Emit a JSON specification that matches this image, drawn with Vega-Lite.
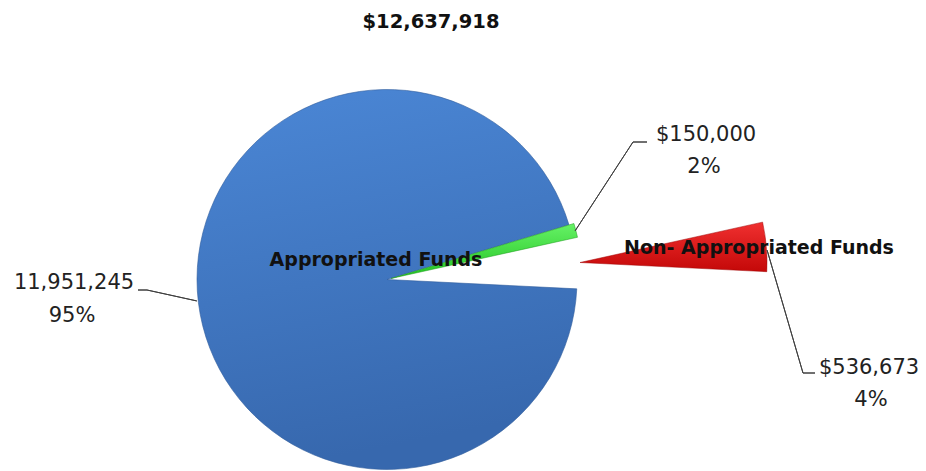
{
  "$schema": "https://vega.github.io/schema/vega-lite/v6.json",
  "width": 774,
  "height": 383,
  "autosize": {"type": "none"},
  "padding": {"left": 0, "top": 88, "right": 152, "bottom": 0},
  "background": "white",
  "config": {"view": {"stroke": null}, "font": "DejaVu Sans"},
  "title": {"text": "$12,637,918", "font": "DejaVu Sans", "fontSize": 19.5, "fontWeight": "bold", "color": "#111111", "dx": 44, "offset": 56},
  "data": {"values": [
    {"category": "Appropriated Funds", "value": 11951245, "order": 1, "share": "95%"},
    {"category": "Other Funds", "value": 150000, "order": 2, "share": "2%"},
    {"category": "Non- Appropriated Funds", "value": 536673, "order": 3, "share": "4%"}
  ]},
  "transform": [
    {"stack": "value", "groupby": [], "sort": [{"field": "order", "order": "ascending"}], "as": ["v0", "v1"]}
  ],
  "layer": [
    {
      "transform": [{"filter": "datum.order == 1"}],
      "mark": {"type": "arc", "radius": 190, "stroke": "#2f5d9c", "strokeWidth": 0.6,
        "color": {"gradient": "linear", "x1": 0, "y1": 0, "x2": 0.2, "y2": 1, "stops": [{"offset": 0, "color": "#4b87d6"}, {"offset": 1, "color": "#3768ae"}]}},
      "encoding": {
        "theta": {"field": "v0", "type": "quantitative", "scale": {"type": "linear", "domain": [0, 12637918], "range": [1.62, 7.9032]}},
        "theta2": {"field": "v1"}
      }
    },
    {
      "transform": [{"filter": "datum.order == 2"}],
      "mark": {"type": "arc", "radius": 191, "xOffset": 4, "yOffset": -1, "stroke": "#1d9a1d", "strokeWidth": 0.5,
        "color": {"gradient": "linear", "x1": 0, "y1": 0, "x2": 0, "y2": 1, "stops": [{"offset": 0, "color": "#66f266"}, {"offset": 1, "color": "#22c322"}]}},
      "encoding": {
        "theta": {"field": "v0", "type": "quantitative", "scale": {"type": "linear", "domain": [0, 12637918], "range": [1.62, 7.9032]}},
        "theta2": {"field": "v1"}
      }
    },
    {
      "transform": [{"filter": "datum.order == 3"}],
      "mark": {"type": "arc", "radius": 187, "xOffset": 193, "yOffset": -17, "stroke": "#a00000", "strokeWidth": 0.5,
        "color": {"gradient": "linear", "x1": 0, "y1": 0, "x2": 0, "y2": 1, "stops": [{"offset": 0, "color": "#f03030"}, {"offset": 1, "color": "#c40808"}]}},
      "encoding": {
        "theta": {"field": "v0", "type": "quantitative", "scale": {"type": "linear", "domain": [0, 12637918], "range": [1.62, 7.9032]}},
        "theta2": {"field": "v1"}
      }
    },
    {
      "transform": [{"filter": "datum.order == 1"}],
      "mark": {"type": "arc", "filled": false, "stroke": "#404040", "strokeWidth": 1, "xOffset": -240, "yOffset": 10.5},
      "encoding": {"theta": {"value": 1.787}, "theta2": {"value": 1.787}, "radius": {"value": 51}, "radius2": {"value": 0}}
    },
    {
      "transform": [{"filter": "datum.order == 1"}],
      "mark": {"type": "arc", "filled": false, "stroke": "#404040", "strokeWidth": 1, "xOffset": -240, "yOffset": 10.5},
      "encoding": {"theta": {"value": 4.712}, "theta2": {"value": 4.712}, "radius": {"value": 9}, "radius2": {"value": 0}}
    },
    {
      "transform": [{"filter": "datum.order == 2"}],
      "mark": {"type": "arc", "filled": false, "stroke": "#404040", "strokeWidth": 1, "xOffset": 246, "yOffset": -137.5},
      "encoding": {"theta": {"value": 3.719}, "theta2": {"value": 3.719}, "radius": {"value": 106}, "radius2": {"value": 0}}
    },
    {
      "transform": [{"filter": "datum.order == 2"}],
      "mark": {"type": "arc", "filled": false, "stroke": "#404040", "strokeWidth": 1, "xOffset": 246, "yOffset": -137.5},
      "encoding": {"theta": {"value": 1.5708}, "theta2": {"value": 1.5708}, "radius": {"value": 14}, "radius2": {"value": 0}}
    },
    {
      "transform": [{"filter": "datum.order == 3"}],
      "mark": {"type": "arc", "filled": false, "stroke": "#404040", "strokeWidth": 1, "xOffset": 416, "yOffset": 93.5},
      "encoding": {"theta": {"value": 5.999}, "theta2": {"value": 5.999}, "radius": {"value": 128}, "radius2": {"value": 0}}
    },
    {
      "transform": [{"filter": "datum.order == 3"}],
      "mark": {"type": "arc", "filled": false, "stroke": "#404040", "strokeWidth": 1, "xOffset": 416, "yOffset": 93.5},
      "encoding": {"theta": {"value": 1.5708}, "theta2": {"value": 1.5708}, "radius": {"value": 12}, "radius2": {"value": 0}}
    },
    {
      "transform": [{"filter": "datum.order == 1"}],
      "mark": {"type": "text", "font": "DejaVu Sans", "fontSize": 21, "color": "#222222", "align": "center", "baseline": "middle", "dx": -313, "dy": 3.5},
      "encoding": {"text": {"field": "value", "type": "quantitative", "format": ","}}
    },
    {
      "transform": [{"filter": "datum.order == 1"}],
      "mark": {"type": "text", "font": "DejaVu Sans", "fontSize": 21, "color": "#222222", "align": "center", "baseline": "middle", "dx": -315, "dy": 36.5},
      "encoding": {"text": {"field": "share", "type": "nominal"}}
    },
    {
      "transform": [{"filter": "datum.order == 1"}],
      "mark": {"type": "text", "font": "DejaVu Sans", "fontSize": 19, "fontWeight": "bold", "color": "#111111", "align": "center", "baseline": "middle", "dx": -11, "dy": -19.5},
      "encoding": {"text": {"field": "category", "type": "nominal"}}
    },
    {
      "transform": [{"filter": "datum.order == 2"}],
      "mark": {"type": "text", "font": "DejaVu Sans", "fontSize": 21, "color": "#222222", "align": "center", "baseline": "middle", "dx": 319, "dy": -144.5},
      "encoding": {"text": {"field": "value", "type": "quantitative", "format": "$,"}}
    },
    {
      "transform": [{"filter": "datum.order == 2"}],
      "mark": {"type": "text", "font": "DejaVu Sans", "fontSize": 21, "color": "#222222", "align": "center", "baseline": "middle", "dx": 317, "dy": -112.5},
      "encoding": {"text": {"field": "share", "type": "nominal"}}
    },
    {
      "transform": [{"filter": "datum.order == 3"}],
      "mark": {"type": "text", "font": "DejaVu Sans", "fontSize": 19, "fontWeight": "bold", "color": "#111111", "align": "center", "baseline": "middle", "dx": 372, "dy": -31.5},
      "encoding": {"text": {"field": "category", "type": "nominal"}}
    },
    {
      "transform": [{"filter": "datum.order == 3"}],
      "mark": {"type": "text", "font": "DejaVu Sans", "fontSize": 21, "color": "#222222", "align": "center", "baseline": "middle", "dx": 482, "dy": 88.5},
      "encoding": {"text": {"field": "value", "type": "quantitative", "format": "$,"}}
    },
    {
      "transform": [{"filter": "datum.order == 3"}],
      "mark": {"type": "text", "font": "DejaVu Sans", "fontSize": 21, "color": "#222222", "align": "center", "baseline": "middle", "dx": 484, "dy": 120.5},
      "encoding": {"text": {"field": "share", "type": "nominal"}}
    }
  ]
}
